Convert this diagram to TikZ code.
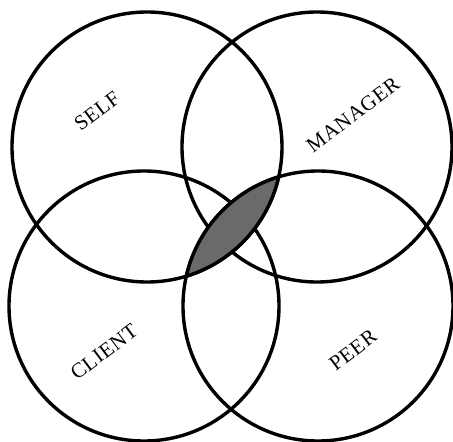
\documentclass[tikz,border=0pt]{standalone}
\usepackage{fontspec}
\setmainfont{Liberation Serif}
\usepackage{tikz}
\usetikzlibrary{positioning}
\definecolor{lensgray}{HTML}{6A6A6A}
\tikzset{
  ring/.style={circle, draw=black, line width=3.4pt, minimum size=270pt, inner sep=0pt},
  edge/.style={draw=black, line width=3.4pt},
  tag/.style={font=\fontsize{21}{21}\selectfont\addfontfeature{LetterSpace=3}, rotate=37, inner sep=0pt},
}

\begin{document}
\begin{tikzpicture}[x=1pt, y=-1pt]
  \useasboundingbox (0,0) rectangle (453,442);
  % the four circles
  \node[ring] (self) at (147,147) {};
  \node[ring] (manager) at (317,147) {};
  \node[ring] (client) at (144,306) {};
  \node[ring] (peer) at (318,306) {};
  % shaded common area, laid over the circles
  \begin{scope}
    \clip (self.center) circle[radius=135pt];
    \fill[lensgray] (peer.center) circle[radius=135pt];
    \draw[edge] (peer.center) circle[radius=135pt];
  \end{scope}
  \begin{scope}
    \clip (peer.center) circle[radius=135pt];
    \draw[edge] (self.center) circle[radius=135pt];
  \end{scope}
  % labels
  \node[tag] (selflbl) at (97,111) {SELF};
  \node[tag] (managerlbl) at (353,115) {MANAGER};
  \node[tag] (clientlbl) at (104,352) {CLIENT};
  \node[tag] (peerlbl) at (353,350) {PEER};
\end{tikzpicture}
\end{document}
